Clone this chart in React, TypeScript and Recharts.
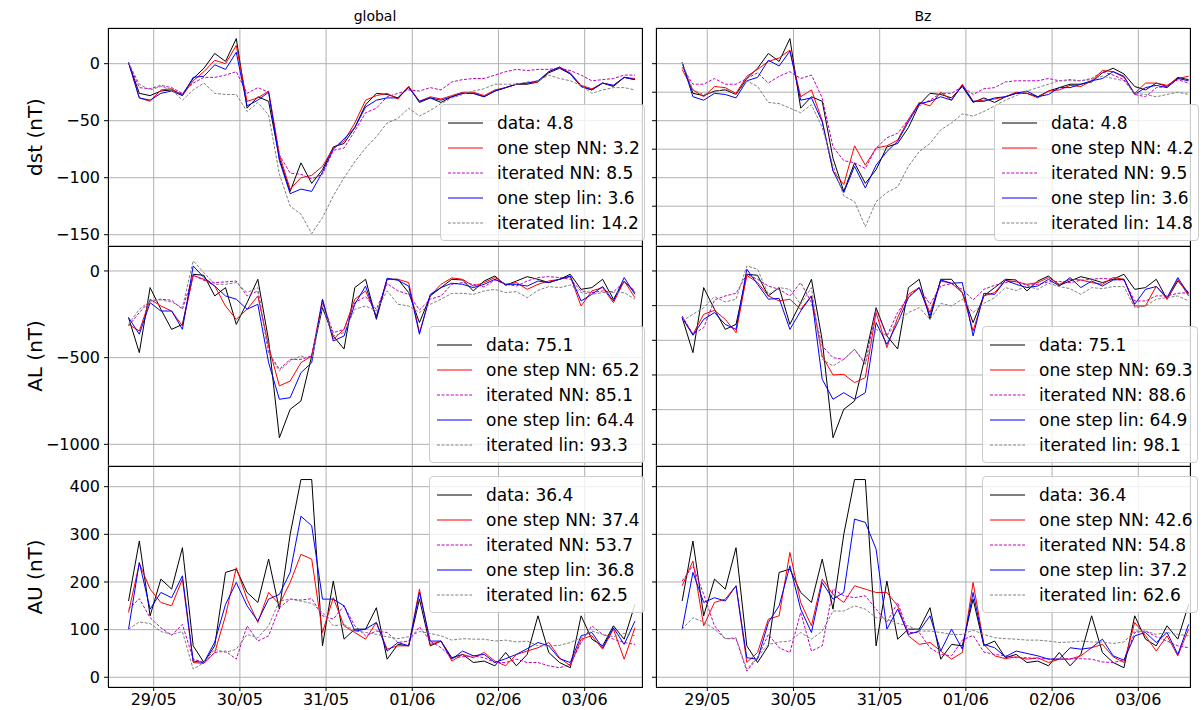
import React from "react";
import { LineChart, Line, XAxis, YAxis, CartesianGrid } from "recharts";

// sample times, hours after 29/05 00:00 (3-hourly)
const hours = [
  -7, -4, -1, 2, 5, 8, 11, 14, 17, 20, 23, 26, 29, 32, 35, 38, 41, 44, 47, 50, 53, 56, 59, 62,
  65, 68, 71, 74, 77, 80, 83, 86, 89, 92, 95, 98, 101, 104, 107, 110, 113, 116, 119, 122, 125,
  128, 131, 134,
];
const dayLabels = ["29/05", "30/05", "31/05", "01/06", "02/06", "03/06"];
const dayTicks = [0, 24, 48, 72, 96, 120];

const seriesNames = ["data", "one step NN", "iterated NN", "one step lin", "iterated lin"];
const seriesColors = ["#000000", "#ff0000", "#bf00bf", "#0000ff", "#808080"];
const seriesDash = [undefined, undefined, "3 1.6", undefined, "3 1.6"];

// ---- dst ----
const dstData = [1, -26, -28, -24, -23, -27, -13, -4, 9, 2, 22, -39, -29, -33, -83, -112, -87, -105, -93, -73, -70, -56, -36, -26, -27, -30, -20, -34, -30, -34, -29, -26, -26, -29, -24, -21, -18, -18, -16, -8, -4, -9, -20, -23, -17, -20, -12, -14];
const dstGlobalNN = [1, -30, -33, -23, -22, -28, -15, -7, 3, 0, 16, -33, -30, -24, -80, -110, -100, -98, -90, -74, -68, -52, -32, -28, -26, -31, -20, -33, -29, -31, -28, -25, -25, -28, -23, -21, -18, -17, -16, -7, -3, -8, -19, -22, -17, -19, -12, -13];
const dstGlobalNNIter = [1, -21, -22, -19, -21, -26, -17, -12, -12, -10, -7, -26, -21, -25, -80, -96, -97, -101, -97, -76, -74, -59, -43, -39, -29, -26, -23, -24, -21, -23, -16, -14, -13, -13, -10, -7, -5, -6, -5, -5, -4, -6, -10, -15, -14, -13, -10, -10];
const dstGlobalLin = [1, -30, -32, -26, -24, -28, -12, -11, -1, -5, 10, -37, -32, -25, -85, -114, -110, -112, -95, -75, -66, -56, -38, -32, -30, -30, -21, -33, -30, -32, -29, -26, -26, -29, -24, -21, -18, -17, -15, -7, -3, -9, -20, -23, -17, -19, -12, -14];
const dstGlobalLinIter = [1, -18, -23, -20, -23, -32, -23, -17, -26, -27, -27, -42, -34, -45, -97, -125, -132, -149, -135, -116, -100, -86, -74, -64, -52, -48, -39, -46, -41, -35, -30, -27, -24, -22, -18, -18, -18, -16, -15, -10, -13, -15, -19, -26, -23, -21, -21, -23];
const dstBzNN = [-5, -23, -29, -20, -21, -26, -11, -5, 2, 5, 12, -29, -23, -50, -94, -106, -72, -89, -74, -72, -67, -49, -34, -37, -25, -32, -18, -33, -32, -31, -29, -25, -26, -30, -24, -23, -19, -20, -15, -6, -7, -12, -26, -17, -17, -19, -13, -11];
const dstBzNNIter = [-3, -18, -18, -13, -18, -18, -13, -8, -17, -11, -7, -13, -10, -30, -73, -85, -87, -92, -74, -65, -61, -49, -37, -32, -26, -26, -20, -27, -22, -21, -16, -15, -15, -15, -13, -15, -14, -15, -13, -7, -10, -14, -27, -29, -21, -20, -14, -17];
const dstBzLin = [1, -29, -32, -26, -27, -30, -15, -12, 3, -2, 11, -32, -30, -51, -94, -113, -90, -109, -89, -77, -68, -51, -35, -33, -29, -32, -19, -33, -33, -30, -29, -26, -24, -29, -27, -21, -21, -18, -15, -13, -7, -11, -27, -21, -19, -21, -13, -15];
const dstBzLinIter = [1, -23, -27, -25, -22, -27, -15, -20, -34, -35, -39, -43, -36, -56, -89, -116, -121, -143, -121, -113, -108, -90, -77, -70, -58, -52, -44, -46, -42, -37, -32, -28, -24, -21, -18, -15, -15, -15, -14, -11, -13, -15, -26, -27, -29, -27, -25, -27];
const dstGlobalScores = [4.8, 3.2, 8.5, 3.6, 14.2];
const dstBzScores = [4.8, 4.2, 9.5, 3.6, 14.8];

// ---- AL ----
const alData = [-269, -471, -96, -221, -337, -308, -19, -25, -144, -96, -308, -183, -48, -400, -962, -798, -750, -490, -212, -375, -450, -96, -48, -279, -48, -48, -125, -298, -144, -96, -48, -52, -115, -58, -29, -83, -58, -33, -48, -67, -48, -19, -106, -96, -48, -163, -58, -125];
const alGlobalNN = [-308, -346, -163, -202, -231, -317, -25, -48, -87, -202, -279, -221, -144, -433, -663, -635, -529, -490, -163, -394, -337, -163, -115, -260, -48, -48, -67, -356, -144, -77, -40, -48, -87, -67, -38, -77, -67, -106, -77, -58, -48, -33, -202, -115, -96, -183, -58, -154];
const alGlobalNNIter = [-317, -240, -173, -163, -169, -221, -25, -54, -67, -63, -58, -144, -115, -471, -567, -510, -510, -490, -183, -356, -337, -183, -148, -221, -73, -115, -135, -225, -163, -144, -77, -67, -77, -92, -52, -77, -87, -58, -38, -33, -38, -48, -115, -125, -115, -121, -63, -115];
const alGlobalLin = [-269, -365, -183, -231, -231, -337, 29, -38, -87, -144, -163, -221, -192, -529, -740, -731, -587, -529, -163, -404, -375, -192, -87, -269, -42, -54, -87, -365, -135, -96, -71, -77, -96, -77, -48, -77, -77, -87, -58, -67, -48, -29, -173, -135, -90, -173, -38, -135];
const alGlobalLinIter = [-308, -221, -173, -167, -179, -212, 58, -10, -77, -77, -67, -125, -96, -471, -577, -519, -490, -510, -202, -375, -356, -221, -202, -231, -115, -192, -202, -240, -192, -163, -129, -129, -135, -115, -106, -125, -119, -154, -112, -90, -96, -81, -125, -135, -125, -125, -125, -163];
const alBzNN = [-269, -365, -250, -227, -279, -356, -25, -67, -144, -173, -163, -221, -144, -490, -600, -596, -644, -615, -240, -442, -269, -135, -96, -240, -58, -71, -125, -346, -144, -125, -54, -63, -77, -67, -38, -77, -48, -52, -67, -77, -38, -48, -202, -202, -87, -163, -48, -144];
const alBzNNIter = [-260, -365, -327, -167, -144, -129, -19, -48, -87, -106, -144, -67, -183, -433, -500, -510, -452, -538, -221, -375, -240, -148, -96, -192, -87, -73, -106, -167, -106, -83, -67, -58, -83, -77, -63, -60, -67, -54, -48, -42, -48, -54, -173, -173, -144, -144, -129, -125];
const alBzLin = [-269, -371, -279, -240, -308, -337, 10, -77, -163, -158, -337, -231, -144, -625, -740, -702, -740, -702, -298, -423, -298, -154, -96, -260, -52, -71, -67, -375, -129, -135, -54, -77, -96, -87, -48, -87, -38, -96, -58, -87, -52, -48, -192, -106, -90, -154, -38, -135];
const alBzLinIter = [-288, -250, -212, -148, -179, -163, 29, 10, -135, -96, -106, -192, -96, -510, -548, -510, -452, -529, -337, -375, -289, -240, -212, -279, -187, -202, -163, -240, -187, -154, -96, -113, -87, -106, -71, -90, -102, -135, -96, -102, -90, -90, -212, -202, -163, -154, -144, -173];
const alGlobalScores = [75.1, 65.2, 85.1, 64.4, 93.3];
const alBzScores = [75.1, 69.3, 88.6, 64.9, 98.1];

// ---- AU ----
const auData = [160, 286, 129, 206, 185, 272, 66, 31, 66, 220, 227, 178, 157, 248, 143, 300, 415, 415, 66, 202, 80, 101, 101, 146, 38, 69, 66, 164, 66, 76, 41, 48, 31, 34, 24, 52, 24, 48, 129, 52, 31, 20, 129, 80, 66, 108, 80, 153];
const auGlobalNN = [136, 239, 185, 157, 150, 206, 31, 29, 52, 129, 230, 164, 115, 178, 153, 199, 258, 248, 94, 167, 108, 94, 80, 115, 59, 66, 66, 185, 69, 76, 34, 48, 41, 52, 34, 24, 48, 55, 62, 73, 41, 24, 80, 87, 59, 101, 38, 104];
const auGlobalNNIter = [143, 165, 125, 104, 88, 111, 38, 31, 52, 55, 38, 108, 76, 87, 146, 164, 162, 165, 129, 122, 150, 108, 87, 97, 94, 73, 76, 106, 76, 62, 41, 43, 45, 41, 31, 31, 38, 31, 31, 24, 20, 27, 73, 108, 90, 80, 73, 69];
const auGlobalLin = [101, 241, 143, 178, 167, 213, 34, 31, 74, 153, 199, 150, 118, 164, 174, 220, 338, 318, 164, 164, 150, 97, 101, 115, 55, 73, 66, 178, 76, 76, 38, 55, 45, 48, 31, 39, 48, 60, 73, 66, 39, 31, 87, 94, 62, 104, 69, 118];
const auGlobalLinIter = [101, 116, 113, 96, 90, 96, 17, 31, 59, 52, 59, 90, 83, 108, 160, 164, 160, 155, 136, 108, 111, 97, 94, 90, 85, 81, 85, 96, 92, 87, 78, 81, 80, 80, 76, 78, 74, 76, 66, 66, 67, 73, 83, 97, 90, 85, 92, 87];
const auBzNN = [192, 244, 108, 157, 164, 192, 31, 52, 122, 129, 262, 157, 108, 206, 174, 157, 192, 185, 178, 178, 150, 87, 69, 73, 55, 38, 52, 199, 69, 45, 39, 43, 38, 41, 31, 38, 38, 45, 62, 69, 43, 31, 115, 87, 55, 87, 45, 101];
const auBzNNIter = [202, 234, 174, 108, 81, 81, 13, 41, 90, 62, 52, 136, 55, 66, 185, 171, 167, 171, 143, 115, 157, 94, 94, 62, 48, 45, 78, 88, 53, 48, 45, 41, 41, 39, 39, 38, 39, 39, 38, 32, 31, 36, 94, 97, 85, 76, 66, 62];
const auBzLin = [101, 220, 157, 167, 160, 192, 41, 38, 115, 150, 234, 143, 94, 199, 164, 178, 332, 325, 269, 101, 143, 90, 97, 129, 55, 101, 59, 178, 69, 62, 43, 55, 50, 45, 38, 38, 62, 59, 62, 80, 45, 36, 87, 94, 73, 94, 48, 111];
const auBzLinIter = [101, 125, 116, 101, 81, 83, 17, 43, 69, 74, 76, 94, 80, 97, 139, 139, 150, 143, 125, 122, 113, 108, 97, 97, 94, 90, 90, 99, 90, 83, 81, 80, 78, 78, 76, 73, 74, 76, 74, 74, 71, 74, 97, 97, 90, 94, 90, 87];
const auGlobalScores = [36.4, 37.4, 53.7, 36.8, 62.5];
const auBzScores = [36.4, 42.6, 54.8, 37.2, 62.6];

// y ticks
const dstTicks = [0, -50, -100, -150];
const dstFineTicks = [0, -25, -50, -75, -100, -125, -150];
const alTicks = [0, -500, -1000];
const alFineTicks = [0, -200, -400, -600, -800, -1000];
const auTicks = [0, 100, 200, 300, 400];

const FONT = "'DejaVu Sans', sans-serif";
const LEFT_AXIS = 80;
const TICK_STYLE = { fontSize: 16, fill: "#000", fontFamily: FONT };

const fmt = (v: number) => (v < 0 ? "\u2212" + Math.abs(v) : String(v));
const blank = () => "";

function buildRows(series: number[][]) {
  return hours.map((t, i) => {
    const row: Record<string, number> = { t };
    series.forEach((s, k) => {
      row["s" + k] = s[i];
    });
    return row;
  });
}

type PanelProps = {
  x: number;
  y: number;
  w: number;
  h: number;
  xDomain: [number, number];
  yDomain: [number, number];
  yTicks: number[];
  yLabels: boolean;
  xLabels: boolean;
  series: number[][];
};

function Panel({ x, y, w, h, xDomain, yDomain, yTicks, yLabels, xLabels, series }: PanelProps) {
  const rows = buildRows(series);
  const xAxisH = xLabels ? 28 : 1;
  const width = w + LEFT_AXIS + 4;
  const height = h + 1 + xAxisH;
  return (
    <div style={{ position: "absolute", left: x - LEFT_AXIS, top: y - 1, width, height }}>
      <LineChart width={width} height={height} data={rows} margin={{ top: 1, right: 4, left: 0, bottom: 0 }}>
        <CartesianGrid stroke="#b0b0b0" strokeWidth={1} />
        <XAxis
          type="number"
          dataKey="t"
          domain={xDomain}
          allowDataOverflow
          ticks={dayTicks}
          interval={0}
          height={xAxisH}
          axisLine={false}
          tickLine={xLabels ? { stroke: "#000" } : false}
          tickSize={4}
          tickMargin={3}
          tick={TICK_STYLE}
          tickFormatter={xLabels ? (v: number) => dayLabels[Math.round(v / 24)] : blank}
        />
        <YAxis
          type="number"
          domain={yDomain}
          allowDataOverflow
          ticks={yTicks}
          interval={0}
          width={LEFT_AXIS}
          axisLine={false}
          tickLine={{ stroke: "#000" }}
          tickSize={4}
          tickMargin={4}
          tick={TICK_STYLE}
          tickFormatter={yLabels ? fmt : blank}
        />
        {series.map((_, k) => (
          <Line
            key={k}
            type="linear"
            dataKey={"s" + k}
            stroke={seriesColors[k]}
            strokeWidth={1}
            strokeDasharray={seriesDash[k]}
            dot={false}
            activeDot={false}
            isAnimationActive={false}
          />
        ))}
      </LineChart>
      <div
        style={{
          position: "absolute",
          left: LEFT_AXIS,
          top: 1,
          width: w + 1,
          height: h + 1,
          border: "1px solid #000",
          boxSizing: "border-box",
          pointerEvents: "none",
        }}
      />
    </div>
  );
}

function LegendBox({ left, top, scores }: { left: number; top: number; scores: number[] }) {
  return (
    <div
      style={{
        position: "absolute",
        left,
        top,
        padding: "5px 4px 5px 7px",
        background: "rgba(255,255,255,0.8)",
        border: "1px solid #cccccc",
        borderRadius: 4,
        fontFamily: FONT,
        fontSize: 17,
        color: "#000",
        whiteSpace: "nowrap",
      }}
    >
      {seriesNames.map((name, i) => (
        <div key={name} style={{ display: "flex", alignItems: "center", height: 25 }}>
          <svg width={35} height={10} style={{ marginRight: 14 }}>
            <line x1={0} x2={35} y1={5} y2={5} stroke={seriesColors[i]} strokeWidth={1} strokeDasharray={seriesDash[i]} />
          </svg>
          <span>
            {name}: {scores[i].toFixed(1)}
          </span>
        </div>
      ))}
    </div>
  );
}

const colX = [108, 656];
const colW = 534;
const colDomain: [number, number][] = [
  [-12.72, 135.96],
  [-14.28, 134.39],
];
const rowY = [28, 246, 466];
const rowH = [218, 220, 221];
const rowDomain: [number, number][] = [
  [-159.9, 31.3],
  [-1125, 144],
  [-20.4, 443.4],
];
const rowTitles = ["dst (nT)", "AL (nT)", "AU (nT)"];

export default function App() {
  const grid = [
    {
      left: [dstData, dstGlobalNN, dstGlobalNNIter, dstGlobalLin, dstGlobalLinIter],
      right: [dstData, dstBzNN, dstBzNNIter, dstBzLin, dstBzLinIter],
      ticksL: dstTicks,
      ticksR: dstFineTicks,
      scoresL: dstGlobalScores,
      scoresR: dstBzScores,
      legendL: [440, 104],
      legendR: [994, 104],
    },
    {
      left: [alData, alGlobalNN, alGlobalNNIter, alGlobalLin, alGlobalLinIter],
      right: [alData, alBzNN, alBzNNIter, alBzLin, alBzLinIter],
      ticksL: alTicks,
      ticksR: alFineTicks,
      scoresL: alGlobalScores,
      scoresR: alBzScores,
      legendL: [429, 326],
      legendR: [982, 326],
    },
    {
      left: [auData, auGlobalNN, auGlobalNNIter, auGlobalLin, auGlobalLinIter],
      right: [auData, auBzNN, auBzNNIter, auBzLin, auBzLinIter],
      ticksL: auTicks,
      ticksR: auTicks,
      scoresL: auGlobalScores,
      scoresR: auBzScores,
      legendL: [429, 476],
      legendR: [982, 476],
    },
  ];

  return (
    <div
      style={{
        position: "absolute",
        left: 0,
        top: 0,
        width: 1202,
        height: 710,
        background: "#fff",
        fontFamily: FONT,
        overflow: "hidden",
      }}
    >
      <div style={{ position: "absolute", left: colX[0], width: colW, top: 8, textAlign: "center", fontSize: 14 }}>global</div>
      <div style={{ position: "absolute", left: colX[1], width: colW, top: 8, textAlign: "center", fontSize: 14 }}>Bz</div>

      {grid.map((g, r) => (
        <React.Fragment key={r}>
          <Panel
            x={colX[0]}
            y={rowY[r]}
            w={colW}
            h={rowH[r]}
            xDomain={colDomain[0]}
            yDomain={rowDomain[r]}
            yTicks={g.ticksL}
            yLabels
            xLabels={r === 2}
            series={g.left}
          />
          <Panel
            x={colX[1]}
            y={rowY[r]}
            w={colW}
            h={rowH[r]}
            xDomain={colDomain[1]}
            yDomain={rowDomain[r]}
            yTicks={g.ticksR}
            yLabels={false}
            xLabels={r === 2}
            series={g.right}
          />
          <div
            style={{
              position: "absolute",
              left: 35,
              top: rowY[r] + rowH[r] / 2,
              transform: "translate(-50%, -50%) rotate(-90deg)",
              fontSize: 20,
              whiteSpace: "nowrap",
            }}
          >
            {rowTitles[r]}
          </div>
        </React.Fragment>
      ))}

      {grid.map((g, r) => (
        <React.Fragment key={"lg" + r}>
          <LegendBox left={g.legendL[0]} top={g.legendL[1]} scores={g.scoresL} />
          <LegendBox left={g.legendR[0]} top={g.legendR[1]} scores={g.scoresR} />
        </React.Fragment>
      ))}
    </div>
  );
}
